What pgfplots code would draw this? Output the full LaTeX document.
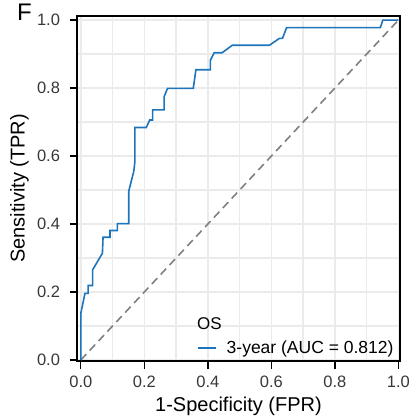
\documentclass[border=0pt]{standalone}
\usepackage{fontspec}
\setmainfont{Liberation Sans}
\usepackage{pgfplots}
\pgfplotsset{compat=1.18}
\definecolor{rocblue}{HTML}{1C75BC}
\definecolor{gridgrey}{HTML}{EBEBEB}
\begin{document}
\begin{tikzpicture}
\begin{axis}[
  scale only axis,
  width=323pt, height=345pt,
  xmin=-0.012, xmax=1.005,
  ymin=-0.003, ymax=1.012,
  xtick={0,0.2,...,1.0}, ytick={0,0.2,...,1.0},
  minor xtick={0.1,0.3,0.5,0.7,0.9},
  minor ytick={0.1,0.3,0.5,0.7,0.9},
  grid=both,
  major grid style={gridgrey, line width=1.4pt},
  minor grid style={gridgrey, line width=1.4pt},
  axis line style={black, line width=1.3pt},
  tick style={black, line width=1.3pt},
  tick pos=left,
  tick align=outside,
  major tick length=7.5pt,
  minor tick length=0pt,
  ticklabel style={font=\fontsize{16.5}{19}\selectfont, text=black!78},
  xticklabel style={yshift=-3.5pt, /pgf/number format/.cd, fixed, fixed zerofill, precision=1},
  yticklabel style={xshift=-6pt, /pgf/number format/.cd, fixed, fixed zerofill, precision=1},
  /pgf/number format/assume math mode=true,
  xlabel={1-Specificity (FPR)},
  ylabel={Sensitivity (TPR)},
  label style={font=\fontsize{20}{23}\selectfont},
  xlabel style={at={(axis description cs:0.5,-0.132)}, anchor=center},
  ylabel style={at={(axis description cs:-0.178,0.5)}, anchor=center},
  clip=false,
  legend style={at={(axis description cs:0.3715,0.037)}, anchor=west, draw=none, fill=none,
    font=\fontsize{17.5}{20}\selectfont, inner sep=0pt, nodes={inner sep=0pt},
    /tikz/every odd column/.append style={column sep=10pt}},
  legend cell align=left,
  legend image code/.code={\draw[#1, line width=1.5pt] (0pt,0pt) -- (18pt,0pt);},
]
\addplot[gray, line width=1.6pt, dash pattern=on 8pt off 5pt, forget plot] coordinates {(0,0) (1,1)};
\addplot[rocblue, line width=1.6pt] coordinates {
(0,0) (0,0.137) (0.013,0.196) (0.023,0.196) (0.023,0.219) (0.037,0.219) (0.037,0.265)
(0.068,0.314) (0.070,0.361) (0.092,0.361) (0.092,0.381) (0.115,0.381) (0.115,0.401)
(0.151,0.401) (0.151,0.497) (0.167,0.556) (0.170,0.581) (0.170,0.684) (0.206,0.684)
(0.217,0.706) (0.226,0.706) (0.226,0.736) (0.2625,0.736) (0.2625,0.775) (0.273,0.799)
(0.354,0.799) (0.3625,0.854) (0.408,0.854) (0.408,0.882) (0.420,0.904) (0.445,0.904)
(0.477,0.926) (0.594,0.926) (0.625,0.946) (0.635,0.946) (0.648,0.978) (0.943,0.978)
(0.951,1.0) (1,1)
};
\addlegendentry{3-year (AUC = 0.812)}
\node[anchor=base west, inner sep=0pt, font=\fontsize{17}{20}\selectfont] at (axis description cs:0.3715,0.0899) {OS};
\node[anchor=base west, inner sep=0pt, font=\fontsize{24}{27}\selectfont] at (axis description cs:-0.1857,0.9884) {F};
\coordinate (bbBL) at (axis description cs:-0.2384,-0.1652);
\coordinate (bbTR) at (axis description cs:1.034,1.0464);
\end{axis}
\pgfresetboundingbox
\path[use as bounding box] (bbBL) rectangle (bbTR);
\end{tikzpicture}
\end{document}
